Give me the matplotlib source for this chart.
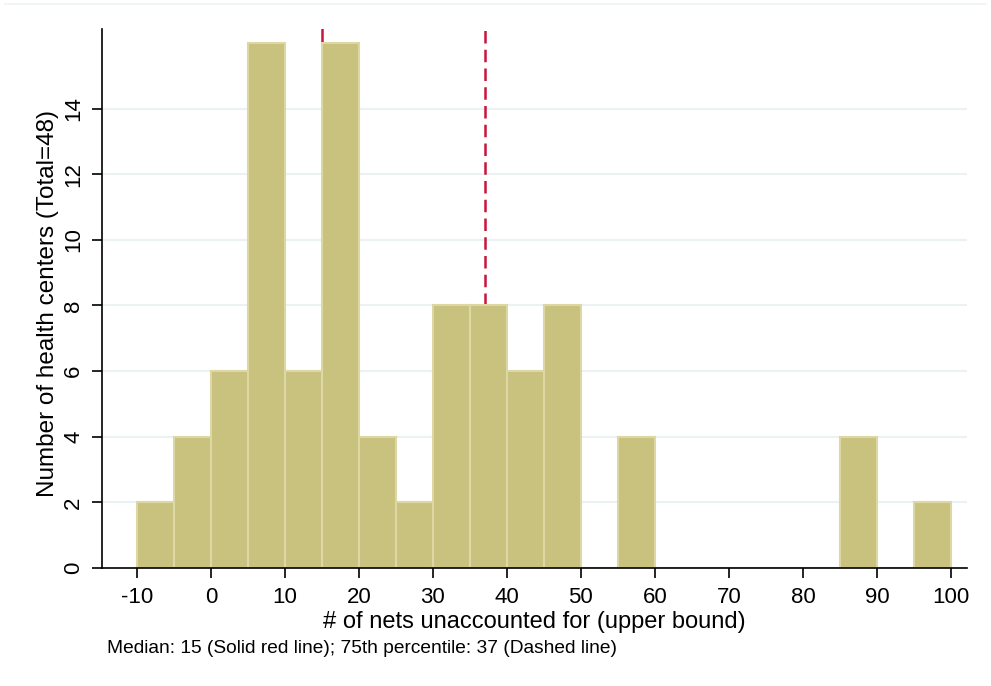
import matplotlib.pyplot as plt
from matplotlib.lines import Line2D

plt.rcParams['font.family'] = ['Liberation Sans', 'DejaVu Sans']
plt.rcParams['axes.unicode_minus'] = False

# histogram bins (left edge, width 5) and their heights
bin_left = [-10, -5, 0, 5, 10, 15, 20, 25, 30, 35, 40, 45, 50, 55, 60, 65, 70, 75, 80, 85, 90, 95]
counts   = [2, 4, 6, 16, 6, 16, 4, 2, 8, 8, 6, 8, 0, 4, 0, 0, 0, 0, 0, 4, 0, 2]
median = 15
p75 = 37
xticks = list(range(-10, 101, 10))
yticks = list(range(0, 15, 2))

fig = plt.figure(figsize=(9.91, 6.86), dpi=100)
ax = fig.add_axes([0.103, 0.172, 0.873, 0.786])

ax.set_xlim(-14.7, 102.2)
ax.set_ylim(0, 16.43)

for y in yticks[1:]:
    ax.axhline(y, color='#eaf2f3', lw=1.5, zorder=0)

ax.axvline(median, color='#c8143c', lw=1.8, zorder=1)
ax.axvline(p75, color='#c8143c', lw=1.8, ls=(0, (5, 2.5)), zorder=1)

ax.bar(bin_left, counts, width=5, align='edge', color='#c9c27f',
       edgecolor='#dcd7a3', linewidth=1.5, zorder=2)

for s in ['top', 'right']:
    ax.spines[s].set_visible(False)
ax.spines['left'].set_linewidth(1.2)
ax.spines['bottom'].set_linewidth(1.2)

ax.set_xticks(xticks)
ax.set_yticks(yticks)
ax.tick_params(axis='both', direction='out', length=7, width=1.2, labelsize=16)
ax.tick_params(axis='x', pad=6.5)
ax.tick_params(axis='y', labelrotation=90, pad=6)
for lbl in ax.get_yticklabels():
    lbl.set_va('center')

ax.set_xlabel('# of nets unaccounted for (upper bound)', fontsize=17)
ax.set_ylabel('Number of health centers (Total=48)', fontsize=17.5)
ax.xaxis.set_label_coords(0.5, -0.079)
ax.yaxis.set_label_coords(-0.05, 0.49)

fig.text(0.108, 0.054, 'Median: 15 (Solid red line); 75th percentile: 37 (Dashed line)',
         fontsize=13.8, ha='left', va='center')

fig.add_artist(Line2D([0.005, 0.995], [0.994, 0.994], transform=fig.transFigure,
                      color='#eef4f5', lw=1.2))

fig.savefig('out.png', dpi=100)
